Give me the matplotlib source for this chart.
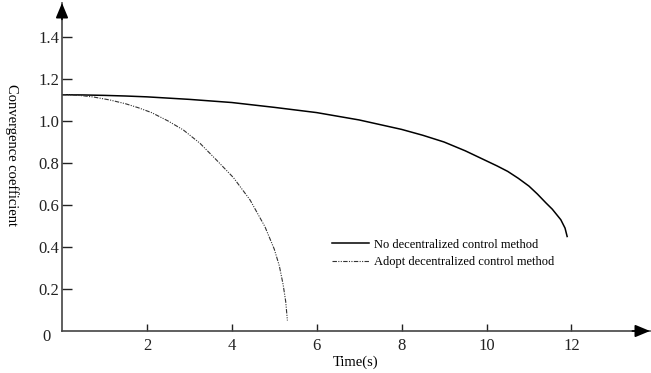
import matplotlib.pyplot as plt

plt.rcParams['font.family'] = ['Liberation Serif', 'DejaVu Serif']

# data
t_no = [0, 0.5, 1, 1.5, 2, 3, 4, 5, 6, 7, 8, 8.5, 9, 9.5, 10, 10.25, 10.5, 10.75,
        11, 11.2, 11.4, 11.55, 11.75, 11.85, 11.9]
c_no = [1.125, 1.124, 1.122, 1.119, 1.115, 1.103, 1.088, 1.065, 1.04, 1.005, 0.96, 0.932,
        0.90, 0.858, 0.81, 0.786, 0.76, 0.727, 0.69, 0.652, 0.61, 0.58, 0.53, 0.49, 0.45]

t_adopt = [0, 0.25, 0.5, 0.75, 1.13, 1.5, 1.8, 2.11, 2.5, 2.86, 3.25, 3.64, 4.04,
           4.43, 4.78, 5.0, 5.12, 5.21, 5.27, 5.31]
c_adopt = [1.125, 1.124, 1.12, 1.114, 1.10, 1.082, 1.063, 1.04, 1.0, 0.957, 0.894, 0.814,
           0.73, 0.624, 0.497, 0.39, 0.31, 0.22, 0.14, 0.05]

xticks = [2, 4, 6, 8, 10, 12]
yticks = [0.2, 0.4, 0.6, 0.8, 1.0, 1.2, 1.4]
labels = ['No decentralized control method', 'Adopt decentralized control method']

W, H = 651, 373
fig = plt.figure(figsize=(W / 100, H / 100), dpi=100)
ax = fig.add_axes([62 / W, 42 / H, (650 - 62) / W, (331 - 3) / H])

ax.plot(t_no, c_no, color='black', lw=1.1, label=labels[0])
ax.plot(t_adopt, c_adopt, color='#333333', lw=0.8,
        linestyle=(0, (4, 1.2, 1, 1.2, 1, 1.2)), label=labels[1])

ax.set_xlim(0, (650 - 62) / 42.45)
ax.set_ylim(0, (331 - 3) / 210)

for s in ['top', 'right']:
    ax.spines[s].set_visible(False)
for s in ['left', 'bottom']:
    ax.spines[s].set_color('#444444')
    ax.spines[s].set_linewidth(1.2)

ax.set_xticks(xticks)
ax.set_yticks(yticks)
ax.set_yticklabels(['%.1f' % v for v in yticks])
ax.tick_params(axis='x', direction='in', length=5, width=1, colors='#222222', labelsize=12, pad=5)
ax.tick_params(axis='y', direction='in', length=7, width=1, colors='#222222', labelsize=12, pad=2)
ax.text(-0.02, -0.017, '0', transform=ax.transAxes, ha='right', va='center', fontsize=12, color='#222222')

ap = dict(arrowstyle='-|>,head_length=0.6,head_width=0.25', color='black',
          lw=1.2, mutation_scale=15, shrinkA=0, shrinkB=0)
ax.annotate('', xy=(0, 1), xytext=(0, 0.95), xycoords='axes fraction', arrowprops=ap, annotation_clip=False)
ax.annotate('', xy=(1, 0), xytext=(0.97, 0), xycoords='axes fraction', arrowprops=ap, annotation_clip=False)

ax.set_xlabel('Time(s)', fontsize=10.5, labelpad=1)
ax.set_ylabel('Convergence coefficient', fontsize=10.5, rotation=270, va='center')
ax.yaxis.set_label_coords(-0.085, 0.537)

ax.legend(frameon=False, loc='upper left', bbox_to_anchor=(6.36, 0.44),
          bbox_transform=ax.transData, fontsize=9, handlelength=3.0,
          handletextpad=0.4, labelspacing=0.45, borderpad=0, borderaxespad=0)

fig.savefig('out.png', dpi=100)
